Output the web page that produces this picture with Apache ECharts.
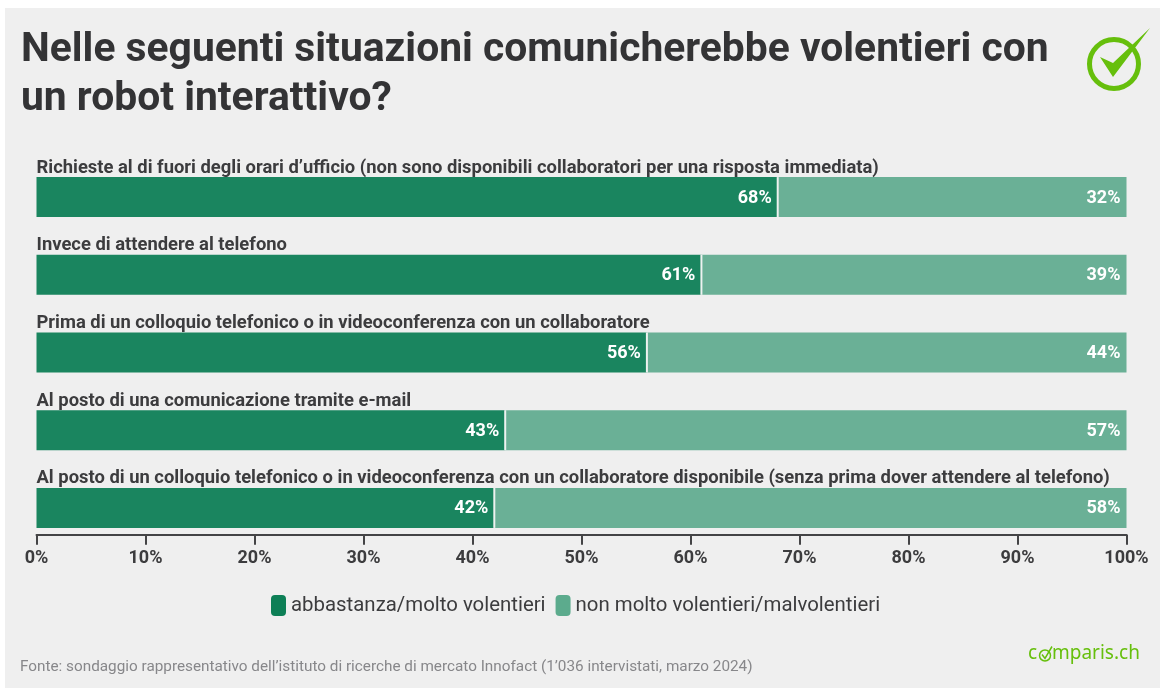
<!DOCTYPE html>
<html>
<head>
<meta charset="utf-8">
<style>
  html, body { margin: 0; padding: 0; background: #ffffff; }
  #chart { width: 1165px; height: 688px; }
</style>
<script src="https://cdn.jsdelivr.net/npm/echarts@6/dist/echarts.min.js"></script>
</head>
<body>
<div id="chart"></div>
<script>
const categories = [
  "Richieste al di fuori degli orari d’ufficio (non sono disponibili collaboratori per una risposta immediata)",
  "Invece di attendere al telefono",
  "Prima di un colloquio telefonico o in videoconferenza con un collaboratore",
  "Al posto di una comunicazione tramite e-mail",
  "Al posto di un colloquio telefonico o in videoconferenza con un collaboratore disponibile (senza prima dover attendere al telefono)"
];
const willingly = [68, 61, 56, 43, 42];
const unwillingly = [32, 39, 44, 57, 58];
const willinglyName = "abbastanza/molto volentieri";
const unwillinglyName = "non molto volentieri/malvolentieri";
const titleLines = "Nelle seguenti situazioni comunicherebbe volentieri con\nun robot interattivo?";
const sourceNote = "Fonte: sondaggio rappresentativo dell’istituto di ricerche di mercato Innofact (1’036 intervistati, marzo 2024)";

const font = "Roboto";
const ink = "#3c3c3e";
const green = "#66bf0c";

const chart = echarts.init(document.getElementById("chart"), null, { renderer: "canvas" });

const barLabel = {
  show: true,
  position: "insideRight",
  distance: 6,
  offset: [0, 1],
  formatter: "{c}%",
  color: "#ffffff",
  fontFamily: font,
  fontWeight: "bold",
  fontSize: 18
};

chart.setOption({
  animation: false,
  backgroundColor: "#ffffff",
  grid: { left: 36.5, right: 38.5, top: 158.25, height: 388.5, containLabel: false },
  xAxis: {
    type: "value",
    min: 0,
    max: 100,
    interval: 10,
    offset: -12,
    splitLine: { show: false },
    axisLine: { show: true, lineStyle: { color: "#444446", width: 2 } },
    axisTick: { show: true, length: 10, lineStyle: { color: "#444446", width: 2 } },
    axisLabel: {
      formatter: "{value}%",
      color: ink,
      fontFamily: font,
      fontWeight: "bold",
      fontSize: 18,
      margin: 15
    }
  },
  yAxis: {
    type: "category",
    inverse: true,
    data: categories,
    axisLine: { show: false },
    axisTick: { show: false },
    axisLabel: {
      inside: true,
      margin: 0,
      align: "left",
      verticalAlign: "bottom",
      padding: [0, 0, 20, 0],
      color: ink,
      fontFamily: font,
      fontWeight: "bold",
      fontSize: 18.4,
      width: 1120,
      overflow: "none"
    },
    z: 5
  },
  legend: {
    top: 590,
    left: 266,
    itemWidth: 15,
    itemHeight: 21,
    itemGap: 10,
    icon: "path://M4,0 H11 Q15,0 15,4 V17 Q15,21 11,21 H4 Q0,21 0,17 V4 Q0,0 4,0 Z",
    textStyle: { color: ink, fontFamily: font, fontSize: 20.4 },
    data: [
      { name: willinglyName, itemStyle: { color: "#0d7f56" } },
      { name: unwillinglyName, itemStyle: { color: "#5cab8d" } }
    ]
  },
  series: [
    {
      name: willinglyName,
      type: "bar",
      stack: "share",
      barWidth: 40,
      data: willingly,
      itemStyle: { color: "#1a855f" },
      label: barLabel
    },
    {
      name: unwillinglyName,
      type: "bar",
      stack: "share",
      barWidth: 40,
      data: unwillingly,
      itemStyle: { color: "#6ab096" },
      label: barLabel
    },
    {
      // thin separator where the two stacked segments meet
      type: "custom",
      silent: true,
      z: 4,
      data: willingly.map((v, i) => [v, i]),
      encode: { x: 0, y: 1 },
      renderItem(params, api) {
        const p = api.coord([api.value(0), api.value(1)]);
        return {
          type: "rect",
          shape: { x: p[0] - 1, y: p[1] - 20, width: 2, height: 40 },
          style: { fill: "#eef2f0" }
        };
      }
    }
  ],
  graphic: [
    { type: "rect", z: -10, silent: true, shape: { x: 5, y: 8, width: 1155, height: 680 }, style: { fill: "#efefef" } },
    { type: "text", left: 21, top: 26, style: { text: titleLines, fill: "#333335", font: "bold 40.8px Roboto", lineHeight: 49 } },
    { type: "text", left: 20, top: 660, style: { text: sourceNote, fill: "#87878a", font: "15.3px Roboto" } },
    // check-mark badge at the top right
    { type: "circle", shape: { cx: 1114, cy: 64, r: 24.5 }, style: { fill: "none", stroke: green, lineWidth: 5 } },
    { type: "polygon", shape: { points: [[1100, 57], [1113, 63], [1150, 28], [1113, 77]] }, style: { fill: green } },
    // wordmark
    { type: "text", left: 1028, top: 644, style: { text: "c", fill: green, font: "19px 'Noto Sans'" } },
    { type: "circle", shape: { cx: 1045, cy: 655.5, r: 5.5 }, style: { fill: "none", stroke: green, lineWidth: 1.5 } },
    { type: "polyline", shape: { points: [[1042, 654.5], [1045, 658.5], [1052, 646.5]] }, style: { fill: "none", stroke: green, lineWidth: 1.5 } },
    { type: "text", left: 1052, top: 644, style: { text: "mparis.ch", fill: green, font: "19px 'Noto Sans'" } }
  ]
});
</script>
</body>
</html>
